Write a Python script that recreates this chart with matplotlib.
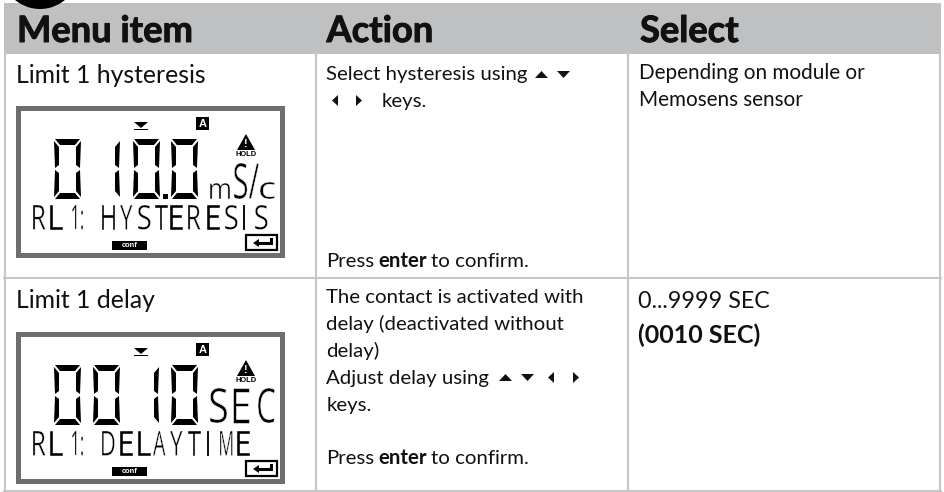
import matplotlib
matplotlib.use('Agg')
import matplotlib.pyplot as plt
import matplotlib.patheffects as pe
from matplotlib.font_manager import FontProperties
from matplotlib.patches import Rectangle, Circle, Polygon
from matplotlib.textpath import TextPath
from matplotlib.transforms import Affine2D

headers = ['Menu item', 'Action', 'Select']
header_x = [17, 326.5, 640]
row_titles = ['Limit 1 hysteresis', 'Limit 1 delay']
title_base = [83, 308]

lcd_top = [105, 331]
lcd_digits = [[(53, '0'), (113, '1'), (132, '0'), (170, '0')],
              [(53, '0'), (92, '0'), (152, '1'), (170, '0')]]
lcd_line_chars = [['R', 'L', '1:'] + list('HYSTERESIS'), ['R', 'L', '1:'] + list('DELAYTIME')]
lcd_line_x = [[33, 50, 72, 102, 120, 138, 155, 170, 188, 207, 225, 243, 255],
              [33, 50, 72, 102, 120, 138, 153, 170, 188, 207, 220, 237]]
# text, left, top, width, height (top relative to the display)
lcd_units = [[('m', 210, 78, 20, 16), ('S/', 234, 58, 25, 36), ('c', 260, 77, 15, 17)],
             [('S', 210, 57, 17, 35), ('E', 233, 57, 16, 35), ('C', 258, 57, 17, 35)]]

SEGS = {'0': 'abcdef', '1': 'bc'}
GRID = '#c6c7c8'
HEAD = '#bfc0c2'
FRAME = '#6d6e71'
INK = '#111111'
FONT = 'Lato'

fig = plt.figure(figsize=(9.45, 4.92), dpi=100)
ax = fig.add_axes([0, 0, 1, 1])
ax.set_xlim(0, 945)
ax.set_ylim(492, 0)
ax.axis('off')


class Stretch(pe.AbstractPathEffect):
    # stretches the glyph upwards from its baseline, the text stays real text
    def __init__(self, sy, erode=0.0):
        super().__init__()
        self.sy, self.erode = sy, erode

    def draw_path(self, renderer, gc, tpath, affine, rgbFace=None):
        gc0 = renderer.new_gc()
        gc0.copy_properties(gc)
        gc0.set_linewidth(self.erode)
        gc0.set_foreground('white')
        renderer.draw_path(gc0, tpath, Affine2D().scale(1, self.sy) + affine, rgbFace)
        gc0.restore()


def px(size):
    return size * 0.72


def put(x, y, s, size=20.4, weight='normal', **kw):
    return ax.text(x, y, s, fontsize=px(size), fontweight=weight, family=FONT,
                   color=INK, va='baseline', ha='left', **kw)


def runs(x, y, parts, size=20.4):
    # regular and bold pieces on one line
    r = fig.canvas.get_renderer()
    for s, w in parts:
        t = put(x, y, s, size, w)
        x = t.get_window_extent(r).x1 + 4


def tri(x, y, kind):
    shapes = {'up': [(0, 7), (13, 7), (6.5, 0)], 'down': [(0, 0), (13, 0), (6.5, 7)],
              'left': [(6, 0), (6, 11), (0, 5.5)], 'right': [(0, 0), (0, 11), (6, 5.5)]}
    ax.add_patch(Polygon([(x + a, y + b) for a, b in shapes[kind]], color=INK, lw=0))


def digit(x, y, ch, w=29, h=60, t=7):
    m = y + h / 2
    polys = {
        'a': [(x + 2, y), (x + w - 2, y), (x + w - t, y + t - 1), (x + t, y + t - 1)],
        'g': [(x + 3, m), (x + t, m - 3), (x + w - t, m - 3), (x + w - 3, m), (x + w - t, m + 3), (x + t, m + 3)],
        'd': [(x + 2, y + h), (x + w - 2, y + h), (x + w - t, y + h - t + 1), (x + t, y + h - t + 1)],
        'f': [(x + 1, y + 2), (x + t - 1, y + t + 1), (x + t - 1, m - 4), (x + 2, m - 1)],
        'e': [(x + 1, y + h - 2), (x + t - 1, y + h - t - 1), (x + t - 1, m + 4), (x + 2, m + 1)],
        'b': [(x + w - 1, y + 2), (x + w - t + 1, y + t + 1), (x + w - t + 1, m - 4), (x + w - 2, m - 1)],
        'c': [(x + w - 1, y + h - 2), (x + w - t + 1, y + h - t - 1), (x + w - t + 1, m + 4), (x + w - 2, m + 1)],
    }
    for s in SEGS[ch]:
        ax.add_patch(Polygon(polys[s], color='black', lw=0))


def thin(x, top, ch, w, h, erode=0.3):
    # fit one glyph into the box the LCD letter has
    prop = FontProperties(family='Open Sans')
    box = TextPath((0, 0), ch, size=32, prop=prop).get_extents()
    size = 32 * w / box.width
    box = TextPath((0, 0), ch, size=size, prop=prop).get_extents()
    sy = h / box.height
    ax.text(x - box.x0, top + h + box.y0 * sy, ch, fontsize=px(size), family='Open Sans',
            color='black', va='baseline', ha='left', path_effects=[Stretch(sy, erode)])


def lcd(n):
    y0 = lcd_top[n]
    ax.add_patch(Rectangle((17.5, y0 + 2.5), 264, 147, fc='white', ec=FRAME, lw=3.6))
    # mode marker, A flag, warning sign
    ax.add_patch(Polygon([(134, y0 + 17), (148, y0 + 17), (141, y0 + 23)], color='black', lw=0))
    ax.add_patch(Rectangle((134, y0 + 23.5), 14, 1.8, color='black', lw=0))
    ax.add_patch(Rectangle((196, y0 + 12), 13, 13, color='black', lw=0))
    ax.text(202.5, y0 + 18.8, 'A', color='white', fontsize=8, fontweight='bold',
            family='Liberation Sans', ha='center', va='center')
    ax.add_patch(Polygon([(237, y0 + 45), (255, y0 + 45), (246, y0 + 29)], color='black', lw=0))
    ax.text(246, y0 + 39, '!', color='white', fontsize=8, fontweight='bold',
            family='Liberation Sans', ha='center', va='center')
    ax.text(246, y0 + 49, 'HOLD', color='black', fontsize=5.4, fontweight='bold',
            family='Liberation Sans', ha='center', va='center')
    for x, ch in lcd_digits[n]:
        if ch == '1':
            digit(x - 21, y0 + 34, ch)
        else:
            digit(x, y0 + 34, ch)
    if n == 0:
        ax.add_patch(Rectangle((163, y0 + 89), 5, 5, color='black', lw=0))
    for ch, x, top, w, h in lcd_units[n]:
        thin(x, y0 + top, ch, w, h, 0.4)
    for ch, x in zip(lcd_line_chars[n], lcd_line_x[n]):
        if ch == 'I':
            thin(x, y0 + 100, ch, 2, 24.5, 0.1)
        elif ch == '1:':
            thin(x, y0 + 100, ch, 11, 24.5, 0.2)
        else:
            thin(x, y0 + 100, ch, 12.5, 24.5)
    # conf flag and enter key
    ax.add_patch(Rectangle((112, y0 + 136), 35, 9, color='black', lw=0))
    ax.text(129.5, y0 + 140.5, 'conf', color='white', fontsize=5.4, fontweight='bold',
            family='Liberation Sans', ha='center', va='center')
    ax.add_patch(Rectangle((246, y0 + 129.5), 31, 15, fc='white', ec='black', lw=1.6))
    ax.plot([257, 271, 271], [y0 + 138, y0 + 138, y0 + 133.5], color='black', lw=2.2,
            solid_joinstyle='miter')
    ax.add_patch(Polygon([(253, y0 + 138), (259, y0 + 134), (259, y0 + 142)], color='black', lw=0))


# table frame
ax.add_patch(Rectangle((4, 2.5), 937, 51, color=HEAD, lw=0))
ax.add_patch(Circle((40, -30), 39, color='black', lw=0))
for x in [5, 316, 628, 940]:
    ax.plot([x, x], [53, 490.5], color=GRID, lw=1.5)
for y in [277.5, 490.5]:
    ax.plot([4, 941], [y, y], color=GRID, lw=1.5)

for x, s in zip(header_x, headers):
    put(x, 42, s, 36.3, 'bold', path_effects=[pe.withStroke(linewidth=0.7, foreground=INK)])
for y, s in zip(title_base, row_titles):
    put(16, y, s, 24.7)

lcd(0)
lcd(1)

# action column, row 1
put(326.5, 80, 'Select hysteresis using')
tri(535, 71, 'up')
tri(557, 71, 'down')
tri(332, 95, 'left')
tri(356, 95, 'right')
put(382, 107, 'keys.')
runs(326.5, 267, [('Press', 'normal'), ('enter', 'bold'), ('to confirm.', 'normal')])

# action column, row 2
put(326.5, 303, 'The contact is activated with')
put(326.5, 330, 'delay (deactivated without')
put(326.5, 357, 'delay)')
put(326.5, 384, 'Adjust delay using')
tri(499, 374, 'up')
tri(521, 374, 'down')
tri(548, 372, 'left')
tri(573, 372, 'right')
put(326.5, 411, 'keys.')
runs(326.5, 464, [('Press', 'normal'), ('enter', 'bold'), ('to confirm.', 'normal')])

# select column
put(639, 79, 'Depending on module or', 20.7)
put(639, 106, 'Memosens sensor', 20.7)
put(638, 308, '0...9999 SEC', 23.2)
put(638, 343, '(0010 SEC)', 25, 'bold')

fig.savefig('out.png', dpi=100)
